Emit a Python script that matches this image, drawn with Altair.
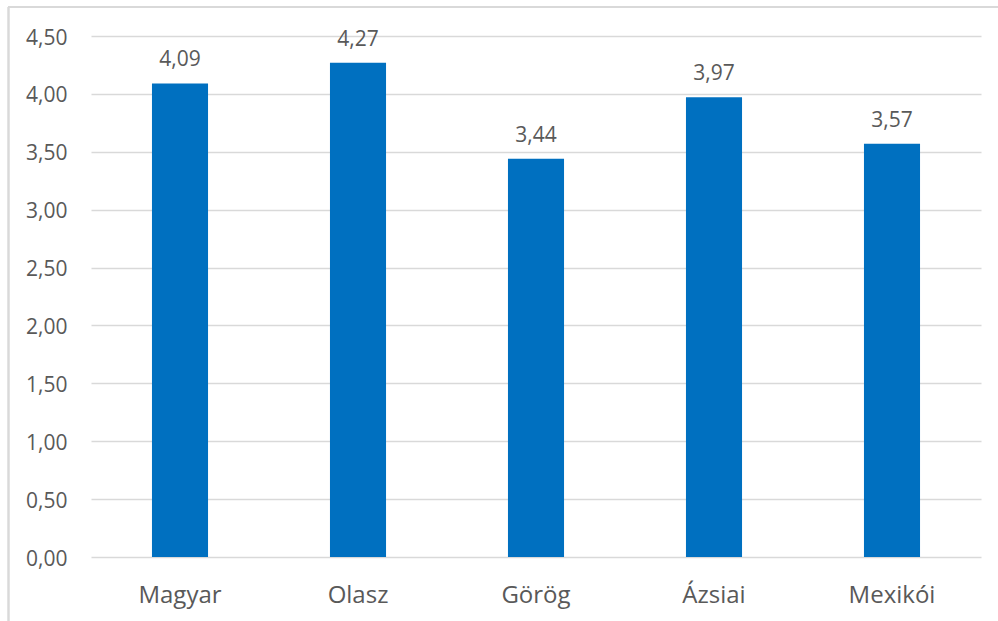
import altair as alt
import pandas as pd

categories = ["Magyar", "Olasz", "Görög", "Ázsiai", "Mexikói"]
values = [4.09, 4.27, 3.44, 3.97, 3.57]
y_ticks = [0, 0.5, 1.0, 1.5, 2.0, 2.5, 3.0, 3.5, 4.0, 4.5]

df = pd.DataFrame({"cat": categories, "val": values})

FONT = "Open Sans"
TXT = "#595959"
GRID = "#d9d9d9"

x = alt.X("cat:N", sort=categories, title=None,
          scale=alt.Scale(paddingInner=0.685, paddingOuter=0.3425),
          axis=alt.Axis(labelAngle=0, labelFontSize=24, labelColor=TXT, labelFont=FONT,
                        labelPadding=26, domain=False, ticks=False, grid=False))
y = alt.Y("val:Q", title=None,
          scale=alt.Scale(domain=[0, 4.5], nice=False),
          axis=alt.Axis(values=y_ticks, labelExpr="replace(format(datum.value,'.2f'),'.',',')",
                        labelFontSize=21, labelColor=TXT, labelFont=FONT, labelPadding=24,
                        labelOffset=2,
                        domain=False, ticks=False, grid=True, gridColor=GRID, gridWidth=1.5))

base = alt.Chart(df)
bars = base.mark_bar(color="#0070C0").encode(x=x, y=y)
labels = base.transform_calculate(
    lbl="replace(format(datum.val,'.2f'),'.',',')"
).mark_text(baseline="alphabetic", dy=-17, fontSize=21, color=TXT, font=FONT).encode(
    x=alt.X("cat:N", sort=categories), y="val:Q", text="lbl:N")

frame_top = alt.Chart(df).mark_rule(color=GRID, strokeWidth=1.5).encode(
    x=alt.value(-83), x2=alt.value(930), y=alt.value(-29))
frame_left = alt.Chart(df).mark_rule(color=GRID, strokeWidth=1.5).encode(
    x=alt.value(-82.5), y=alt.value(-29), y2=alt.value(600))

chart = alt.layer(frame_top, frame_left, bars, labels).properties(
    width=890, height=521,
    autosize=alt.AutoSizeParams(type="none"),
    padding={"left": 91, "top": 36, "right": 17, "bottom": 64},
    background="white",
).configure_view(stroke=None)

chart.save("out.html", embed_options={"renderer": "svg", "actions": False})
